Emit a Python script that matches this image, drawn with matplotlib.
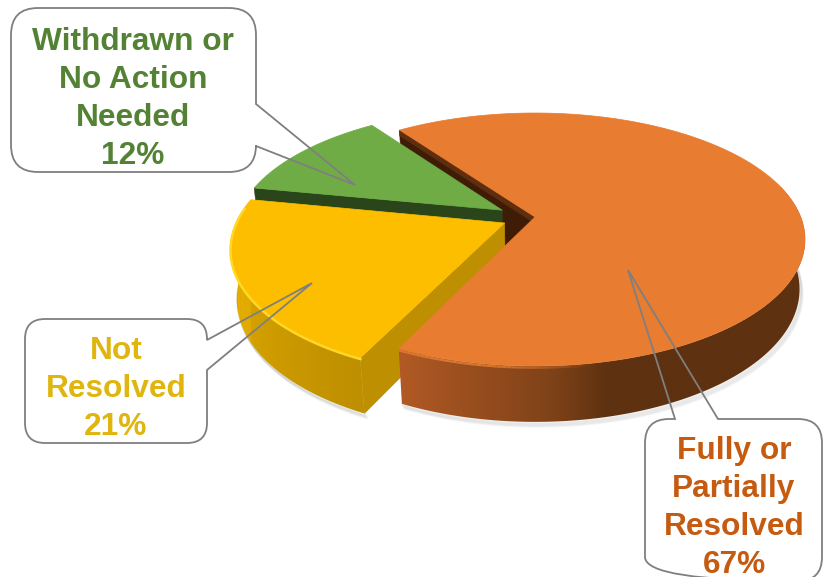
# coding: utf-8

"""
Resolution of cases: exploded 3D pie with callout labels
"""

import numpy as np
import matplotlib
matplotlib.use("Agg")
import matplotlib.pyplot as plt
from matplotlib.patches import PathPatch, Polygon
from matplotlib.path import Path

#==========
# Data

names = ["Fully or\nPartially\nResolved", "Not\nResolved", "Withdrawn or\nNo Action\nNeeded"]
shares = [67, 21, 12]

#==========
# Styles

explode = [0.0, 0.135, 0.135]
nudge = [(0, 0), (2, -1.5), (-3, 2)]# Extra shift in pixels
top_colors = ["#E87C30", "#FDBE00", "#6FAC46"]
text_colors = ["#C55A11", "#E0B50E", "#548235"]
face_colors = ["#4A2207", "#BE8F00", "#2B451B"]

start_deg = 234.3

# Projection of the unit disc onto the canvas (pixels)
cx, cy = 535.0, 217.0
a, b = 265.7, 122.5
k = 0.178
depth = 50.0
shrink = 0.02

def project(u, v, z=0.0):
	w = 1 - k * np.asarray(v) + shrink * z
	return cx + a * np.asarray(u) / w, cy + (b * np.asarray(v) + depth * z) / w

def wedge_angles():
	edges = start_deg + np.cumsum([0] + shares) * 3.6
	return [(edges[i], edges[i + 1]) for i in range(len(shares))]

def offset(i):
	t0, t1 = wedge_angles()[i]
	mid = np.radians((t0 + t1) / 2)
	return explode[i] * np.cos(mid), explode[i] * np.sin(mid)

def rim_point(i, deg, z=0.0):
	ex, ey = offset(i)
	t = np.radians(deg)
	x, y = project(ex + np.cos(t), ey + np.sin(t), z)
	return x + nudge[i][0], y + nudge[i][1]

def apex_point(i, z=0.0):
	ex, ey = offset(i)
	x, y = project(ex, ey, z)
	return x + nudge[i][0], y + nudge[i][1]

def draw_top(ax, i, zorder):
	t0, t1 = wedge_angles()[i]
	ts = np.linspace(t0, t1, 200)
	xs, ys = rim_point(i, ts)
	x0, y0 = apex_point(i)
	pts = np.column_stack([np.r_[x0, xs], np.r_[y0, ys]])
	ax.add_patch(Polygon(pts, closed=True, fc=top_colors[i], ec=top_colors[i], lw=0.5, zorder=zorder))

def draw_face(ax, i, deg, color, zorder, z0=0.0, z1=1.0):
	# Flat cut face between the wedge centre and its rim
	xa0, ya0 = apex_point(i, z0)
	xa1, ya1 = apex_point(i, z1)
	xr0, yr0 = rim_point(i, deg, z0)
	xr1, yr1 = rim_point(i, deg, z1)
	pts = [(xa0, ya0), (xr0, yr0), (xr1, yr1), (xa1, ya1)]
	ax.add_patch(Polygon(pts, closed=True, fc=color, ec=color, lw=0.4, zorder=zorder))

def draw_rim(ax, i, deg_from, deg_to, stops, zorder):
	# Outer wall as a horizontal gradient clipped to the wall outline
	ts = np.linspace(deg_from, deg_to, 300)
	x_top, y_top = rim_point(i, ts)
	x_bot, y_bot = rim_point(i, ts, 1.0)
	pts = np.column_stack([np.r_[x_top, x_bot[::-1]], np.r_[y_top, y_bot[::-1]]])
	outline = Polygon(pts, closed=True, fc="none", ec="none", transform=ax.transData, zorder=zorder)
	ax.add_patch(outline)

	stop_t = [s[0] for s in stops]
	stop_c = np.array([s[1] for s in stops], dtype=float) / 255
	cols = np.column_stack([np.interp(ts, stop_t, stop_c[:, c]) for c in range(3)])
	x_lo, x_hi = pts[:, 0].min(), pts[:, 0].max()
	grid = np.linspace(x_lo, x_hi, 500)
	order = np.argsort(x_top)
	row = np.column_stack([np.interp(grid, x_top[order], cols[order, c]) for c in range(3)])
	im = ax.imshow(row[np.newaxis, :, :], extent=(x_lo, x_hi, pts[:, 1].max(), pts[:, 1].min()),
		aspect="auto", interpolation="bilinear", zorder=zorder)
	im.set_clip_path(outline)

def draw_shadow(ax, i, deg_from, deg_to):
	ts = np.linspace(deg_from, deg_to, 120)
	xs, ys = rim_point(i, ts, 1.0)
	for n in range(1, 7):
		ax.plot(xs + 0.5 * n, ys + 0.8 * n, color="#808080", lw=1.6, alpha=0.07, zorder=1,
			solid_capstyle="round")

def draw_bevel(ax, i, deg_from, deg_to, color, lw, zorder):
	# Light edge along the top of the wall, fading out toward deg_from
	ts = np.linspace(deg_from, deg_to, 41)
	xs, ys = rim_point(i, ts, 0.03)
	for j in range(len(ts) - 1):
		ax.plot(xs[j:j + 2], ys[j:j + 2], color=color, lw=lw, alpha=min(1.0, 2.0 * (j + 1) / len(ts)),
			zorder=zorder, solid_capstyle="butt")

def callout(ax, box, radius, tail_from, tip, tail_to):
	# Rounded box with a pointer on one of its sides, tail_from/tail_to lie on that side
	l, t, r, bt = box
	verts = []
	codes = []
	def corner(p0, c, p1):
		verts.extend([p0, c, p1])
		codes.extend([Path.LINETO, Path.CURVE3, Path.CURVE3])
	verts.append((l + radius, t))
	codes.append(Path.MOVETO)
	top_side = abs(tail_from[1] - t) < 1
	if top_side:
		verts.extend([tail_from, tip, tail_to])
		codes.extend([Path.LINETO] * 3)
	corner((r - radius, t), (r, t), (r, t + radius))
	if not top_side:
		verts.extend([tail_from, tip, tail_to])
		codes.extend([Path.LINETO] * 3)
	corner((r, bt - radius), (r, bt), (r - radius, bt))
	corner((l + radius, bt), (l, bt), (l, bt - radius))
	corner((l, t + radius), (l, t), (l + radius, t))
	verts.append((l + radius, t))
	codes.append(Path.CLOSEPOLY)
	ax.add_patch(PathPatch(Path(verts, codes), fc="none", ec="#7F7F7F", lw=1.3, zorder=20,
		joinstyle="miter"))

def label(ax, i, x, first_y, step=38.0):
	lines = names[i].split("\n") + ["%d%%" % shares[i]]
	for n, line in enumerate(lines):
		ax.text(x, first_y + n * step, line, color=text_colors[i], fontsize=22.8, fontweight="bold",
			family="Liberation Sans", ha="center", va="center", zorder=21)

def main():
	fig = plt.figure(figsize=(8.26, 5.77), dpi=100)
	ax = fig.add_axes([0, 0, 1, 1])
	ax.axis("off")

	wedges = wedge_angles()
	orange, yellow, green = 0, 1, 2
	o_end = wedges[orange][1]
	y_start, y_end = wedges[yellow]

	# Soft shadow under the walls
	draw_shadow(ax, orange, 360, o_end)
	draw_shadow(ax, yellow, y_start, y_start + 70)

	# Back faces first
	draw_face(ax, orange, wedges[orange][0], "#3F1C05", 2)
	draw_face(ax, orange, wedges[orange][0], "#5E2E0E", 2.1, 0.0, 0.13)
	draw_face(ax, green, wedges[green][0], face_colors[green], 3)
	draw_top(ax, green, 4)

	# Yellow wedge
	draw_face(ax, yellow, y_start, face_colors[yellow], 5)
	draw_rim(ax, yellow, y_start, y_end,
		[(y_start, (190, 143, 0)), (y_start + 35, (215, 163, 0)), (y_end - 10, (235, 178, 0)), (y_end, (235, 178, 0))], 5.1)
	draw_top(ax, yellow, 6)
	ts = np.linspace(y_start, y_end - 4, 120)
	xs, ys = rim_point(yellow, ts, 0.02)
	ax.plot(xs, ys, color="#FFD726", lw=1.8, zorder=6.1)

	# Orange wedge
	draw_rim(ax, orange, 345, o_end,
		[(345, (94, 49, 16)), (437, (94, 49, 16)), (447, (127, 66, 24)), (o_end, (178, 90, 37))], 7)
	draw_bevel(ax, orange, 440, o_end, "#D9772F", 1.6, 7.5)
	draw_top(ax, orange, 8)

	# Callouts
	callout(ax, (11, 8, 256, 172), 27, (256, 104), (355, 185), (256, 146))
	callout(ax, (25, 319, 207, 443), 20, (207, 340), (312, 283), (207, 370))
	callout(ax, (645, 419, 822, 581), 24, (675, 419), (628, 270), (718, 419))

	label(ax, green, 133, 42)
	label(ax, yellow, 116, 351)
	label(ax, orange, 734, 451)

	# imshow resets the limits, so they are fixed last
	ax.set_xlim(0, 826)
	ax.set_ylim(577, 0)

	fig.savefig("out.png", dpi=100)

if __name__ == "__main__":
	main()
